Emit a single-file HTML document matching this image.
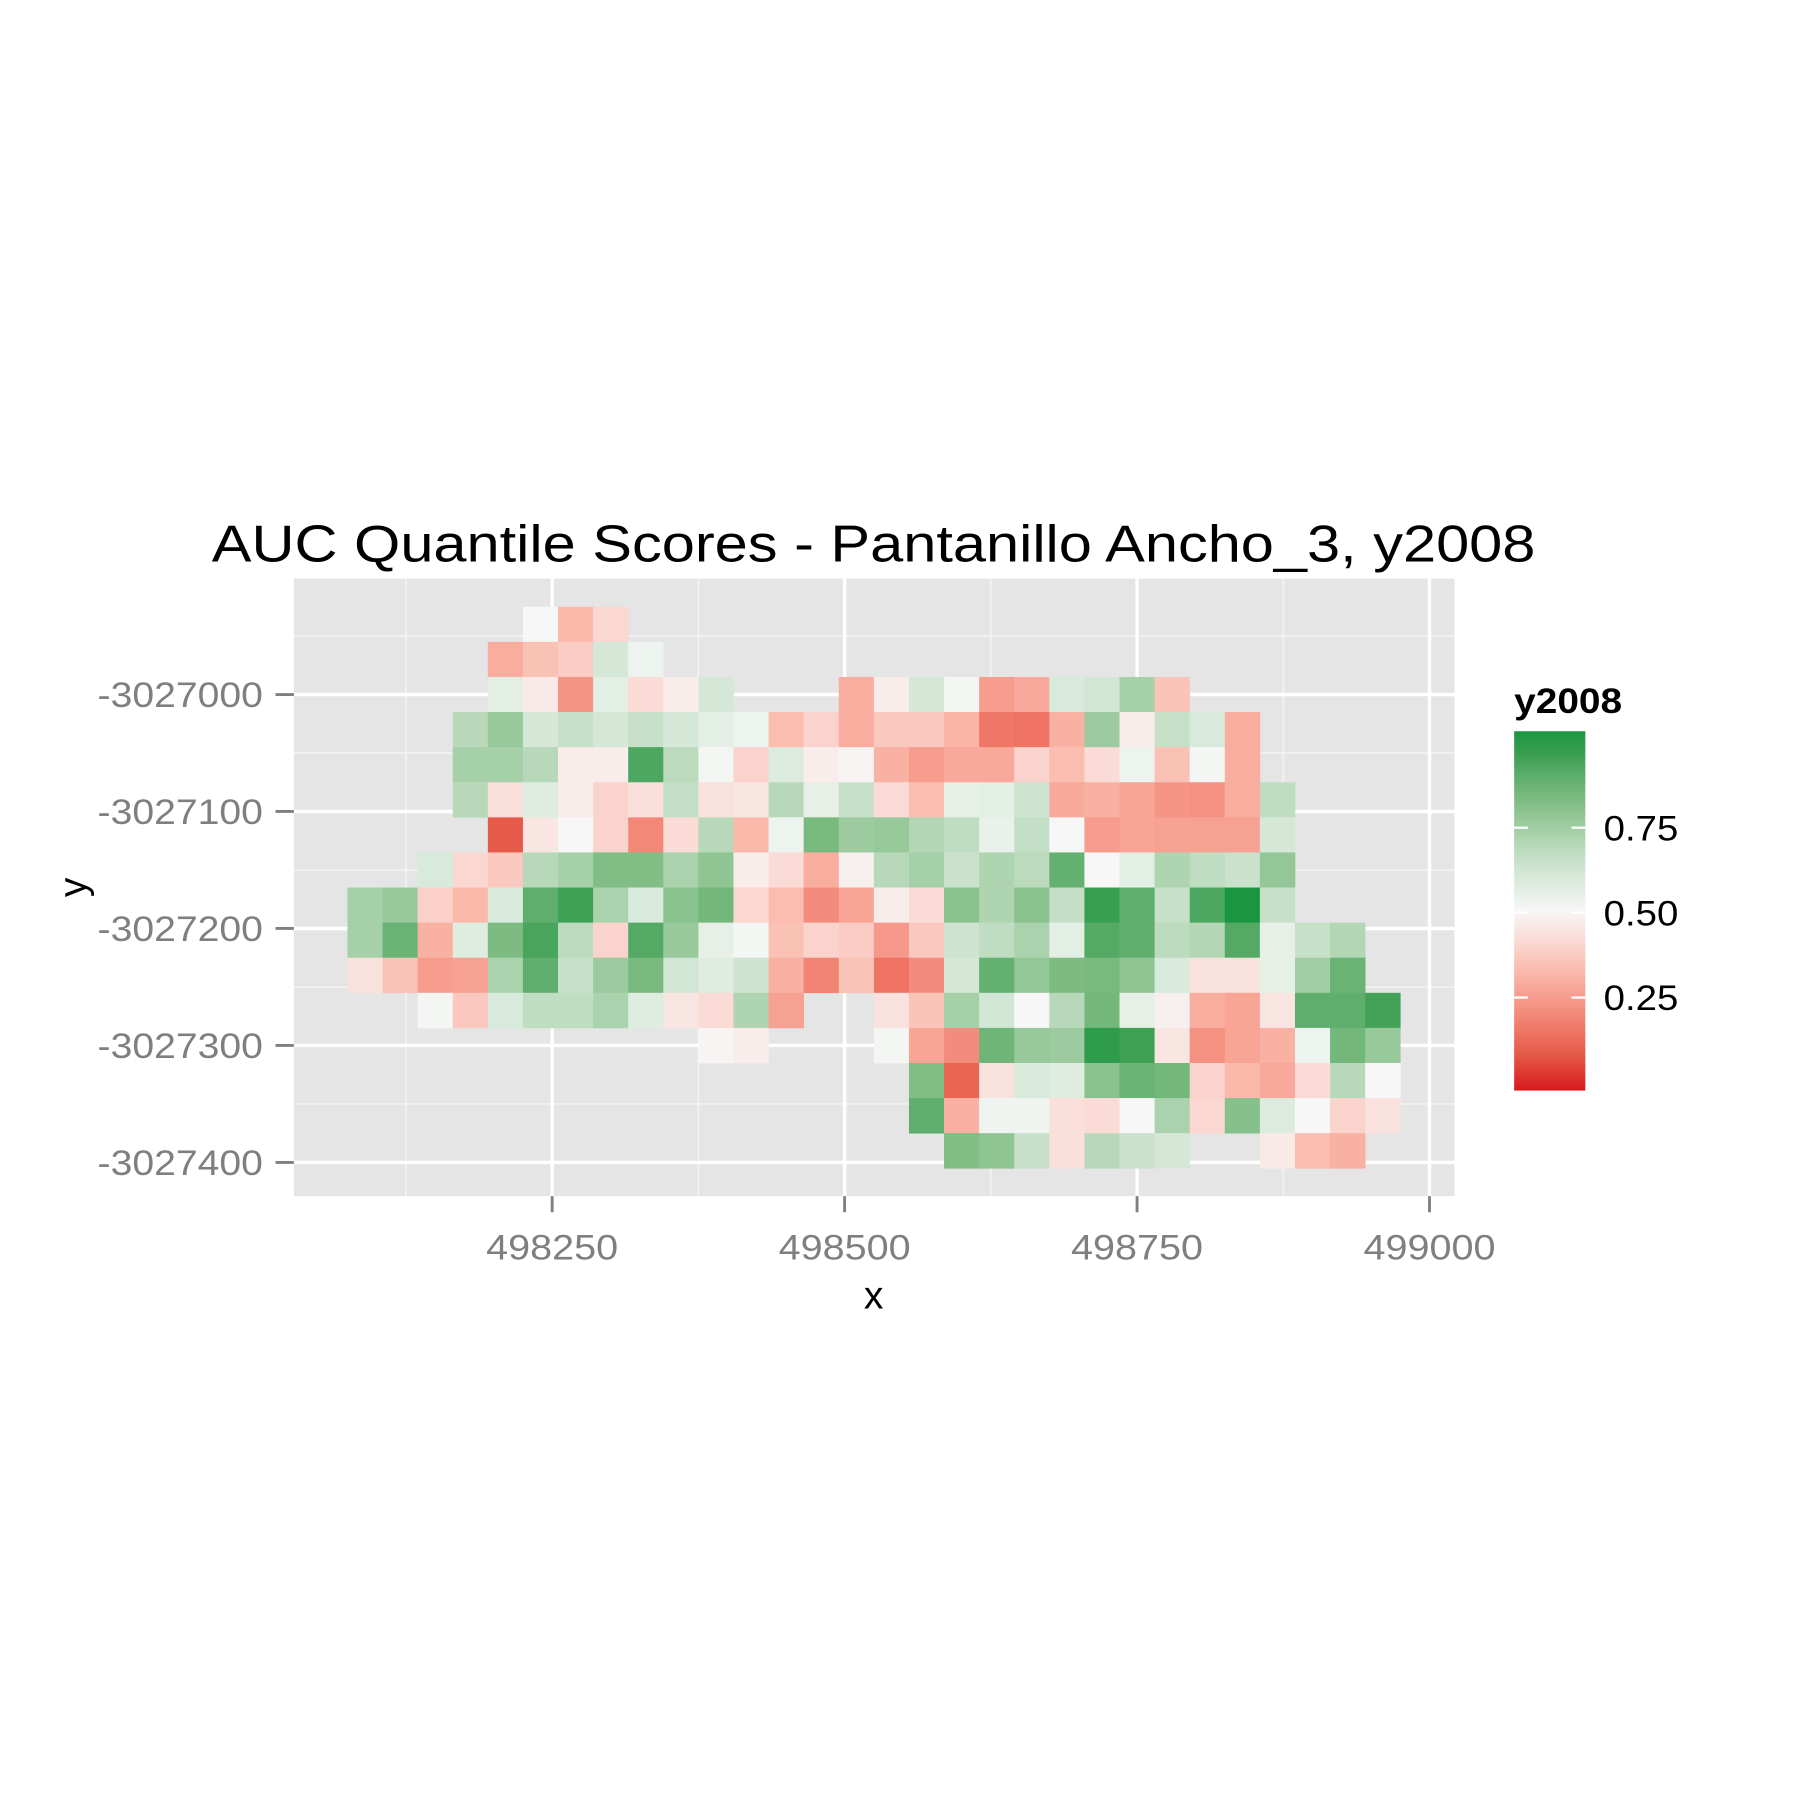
<!DOCTYPE html>
<html><head><meta charset="utf-8"><style>
html,body{margin:0;padding:0;background:#fff;}
svg{display:block;font-family:"Liberation Sans",Arial,sans-serif;}
</style></head><body>
<svg id="chart" width="1800" height="1800" viewBox="0 0 1568 1568" xmlns="http://www.w3.org/2000/svg">
<defs>
<linearGradient id="cbar" x1="0" y1="1" x2="0" y2="0">
<stop offset="0" stop-color="#d7191c"/><stop offset="0.1" stop-color="#e55a48"/><stop offset="0.17" stop-color="#ef7766"/><stop offset="0.25" stop-color="#f6998a"/><stop offset="0.33" stop-color="#fab9ab"/><stop offset="0.42" stop-color="#fadbd6"/><stop offset="0.5" stop-color="#f7f7f7"/><stop offset="0.6" stop-color="#d5e8d8"/><stop offset="0.68" stop-color="#b8d9b9"/><stop offset="0.75" stop-color="#98c99b"/><stop offset="0.82" stop-color="#78b97e"/><stop offset="0.88" stop-color="#5aac6a"/><stop offset="0.93" stop-color="#3da052"/><stop offset="1" stop-color="#1a9641"/>
</linearGradient>
</defs>
<text x="761" y="489" font-size="45" text-anchor="middle" textLength="1153" lengthAdjust="spacingAndGlyphs">AUC Quantile Scores - Pantanillo Ancho_3, y2008</text>
<rect x="256" y="504" width="1011" height="538" fill="#e5e5e5"/>
<g id="grid"></g>
<g id="cells"></g>
<g id="axes"></g>
<text x="761" y="1140" font-size="34" text-anchor="middle">x</text>
<text x="0" y="0" font-size="34" text-anchor="middle" transform="translate(75,773) rotate(-90)">y</text>
<g>
<text x="1319" y="621" font-size="31" font-weight="bold" textLength="94" lengthAdjust="spacingAndGlyphs">y2008</text>
<rect x="1319" y="637" width="62" height="313" fill="url(#cbar)"/>
<g id="legendticks"></g>
</g>
</svg>
<script>
const colStart = [5,4,4,3,3,3,4,2,0,0,0,2,10,16,16,17];
const row0 = [.5,.33,.41];
const row1 = [.3,.35,.38,.6,.53];
const row2 = [.56,.46,.24,.56,.42,.47,.6,null,null,null,.3,.47,.6,.51,.26,.29,.59,.61,.72,.36];
const row3 = [.68,.75,.6,.64,.6,.64,.6,.56,.53,.34,.4,.3,.37,.37,.32,.17,.16,.31,.74,.47,.64,.59,.3];
const row4 = [.72,.72,.68,.47,.47,.9,.67,.51,.4,.58,.47,.49,.31,.26,.29,.29,.4,.34,.42,.53,.35,.51,.3];
const row5 = [.68,.43,.57,.47,.4,.43,.65,.44,.45,.68,.55,.64,.42,.34,.55,.56,.62,.29,.31,.28,.24,.23,.3,.66];
const row6 = [.1,.45,.5,.4,.21,.42,.68,.33,.53,.82,.74,.75,.69,.66,.54,.65,.5,.26,.28,.27,.27,.27,.6];
const row7 = [.59,.41,.37,.68,.72,.8,.8,.71,.77,.47,.42,.3,.48,.68,.72,.63,.7,.67,.86,.5,.56,.7,.66,.63,.76];
const row8 = [.72,.75,.39,.33,.59,.87,.93,.71,.59,.78,.83,.41,.34,.22,.28,.47,.42,.78,.7,.78,.65,.94,.87,.64,.9,1.0,.64];
const row9 = [.72,.85,.31,.57,.81,.91,.67,.4,.89,.75,.55,.51,.35,.4,.38,.25,.37,.62,.66,.71,.56,.89,.87,.67,.69,.89,.55,.64,.69];
const row10 = [.44,.36,.26,.27,.71,.87,.64,.74,.82,.61,.57,.62,.31,.2,.36,.16,.22,.6,.86,.76,.81,.82,.77,.59,.44,.44,.55,.73,.85];
const row11 = [.51,.37,.59,.66,.66,.71,.57,.45,.42,.7,.27,null,null,.44,.36,.72,.61,.5,.68,.83,.55,.48,.3,.28,.45,.87,.87,.92];
const row12 = [.49,.47,null,null,null,.51,.28,.22,.84,.75,.74,.96,.93,.45,.23,.28,.31,.53,.83,.75];
const row13 = [.8,.13,.44,.59,.57,.78,.85,.83,.4,.33,.29,.42,.68,.5];
const row14 = [.87,.31,.52,.52,.43,.42,.5,.71,.41,.79,.58,.5,.4,.44];
const row15 = [.8,.77,.64,.43,.68,.63,.6,null,null,.46,.34,.31];
const xTicks = [498250,498500,498750,499000];
const xTickLabels = ["498250","498500","498750","499000"];
const xMinor = [498125,498375,498625,498875];
const yTicks = [-3027000,-3027100,-3027200,-3027300,-3027400];
const yTickLabels = ["-3027000","-3027100","-3027200","-3027300","-3027400"];
const yMinor = [-3026950,-3027050,-3027150,-3027250,-3027350];
const legendValues = [0.25,0.5,0.75];
const legendLabels = ["0.25","0.50","0.75"];

const rows=[row0,row1,row2,row3,row4,row5,row6,row7,row8,row9,row10,row11,row12,row13,row14,row15];
const X0=498090, Y0=-3026940, STEP=30;
const K=1.019;
function px(x){return 481+(x-498250)*K;}
function py(y){return 605+(-3027000-y)*K;}
const stops=[[0,"#d7191c"],[0.1,"#e55a48"],[0.17,"#ef7766"],[0.25,"#f6998a"],[0.33,"#fab9ab"],[0.42,"#fadbd6"],[0.5,"#f7f7f7"],[0.6,"#d5e8d8"],[0.68,"#b8d9b9"],[0.75,"#98c99b"],[0.82,"#78b97e"],[0.88,"#5aac6a"],[0.93,"#3da052"],[1,"#1a9641"]];
function hex(h){return [1,3,5].map(i=>parseInt(h.substr(i,2),16));}
function color(v){
  v=Math.max(0,Math.min(1,v));
  for(let i=0;i<stops.length-1;i++){
    const a=stops[i],b=stops[i+1];
    if(v<=b[0]){const t=(v-a[0])/(b[0]-a[0]);const ca=hex(a[1]),cb=hex(b[1]);
      return "rgb("+ca.map((c,j)=>Math.round(c+(cb[j]-c)*t)).join(",")+")";}
  }
  return stops[stops.length-1][1];
}
const NS="http://www.w3.org/2000/svg";
function mk(tag,attrs,parent){const e=document.createElementNS(NS,tag);for(const k in attrs)e.setAttribute(k,attrs[k]);parent.appendChild(e);return e;}
const grid=document.getElementById("grid");
xMinor.forEach(v=>{const l=mk("line",{x1:px(v),x2:px(v),y1:504,y2:1042,stroke:"#f2f2f2","stroke-width":1.5},grid);

});
yMinor.forEach(v=>{const l=mk("line",{x1:256,x2:1267,y1:py(v),y2:py(v),stroke:"#f2f2f2","stroke-width":1.5},grid);

});
xTicks.forEach(v=>{const l=mk("line",{x1:px(v),x2:px(v),y1:504,y2:1042,stroke:"#fff","stroke-width":3},grid);

});
yTicks.forEach(v=>{const l=mk("line",{x1:256,x2:1267,y1:py(v),y2:py(v),stroke:"#fff","stroke-width":3},grid);

});
const cells=document.getElementById("cells");
rows.forEach((r,ri)=>{r.forEach((v,ci)=>{
  if(v===null)return;
  const col=colStart[ri]+ci;
  const cx=X0+STEP*col, cy=Y0-STEP*ri;
  const x1=px(cx-STEP/2), x2=px(cx+STEP/2), y1=py(cy+STEP/2), y2=py(cy-STEP/2);
  const c=mk("rect",{x:x1,y:y1,width:x2-x1+0.3,height:y2-y1+0.3,fill:color(v)},cells);
  
  
});});
const axes=document.getElementById("axes");
xTicks.forEach((v,i)=>{
  const t=mk("line",{x1:px(v),x2:px(v),y1:1042,y2:1056,stroke:"#7f7f7f","stroke-width":2.5},axes);
  
  
  const l=mk("text",{x:px(v),y:1097,"font-size":31,fill:"#7f7f7f","text-anchor":"middle",textLength:115,lengthAdjust:"spacingAndGlyphs"},axes);
  l.textContent=xTickLabels[i];
  
  
});
yTicks.forEach((v,i)=>{
  const t=mk("line",{x1:240,x2:256,y1:py(v),y2:py(v),stroke:"#7f7f7f","stroke-width":2.5},axes);
  
  
  const l=mk("text",{x:229,y:py(v)+11,"font-size":31,fill:"#7f7f7f","text-anchor":"end",textLength:144,lengthAdjust:"spacingAndGlyphs"},axes);
  l.textContent=yTickLabels[i];
  
  
});
const lt=document.getElementById("legendticks");
legendValues.forEach((v,i)=>{
  const y=795-(v-0.5)*296;
  const a=mk("line",{x1:1319,x2:1331,y1:y,y2:y,stroke:"#fff","stroke-width":2},lt);
  
  
  const b=mk("line",{x1:1369,x2:1381,y1:y,y2:y,stroke:"#fff","stroke-width":2},lt);
  
  
  const l=mk("text",{x:1397,y:y+11,"font-size":31,fill:"#000",textLength:65,lengthAdjust:"spacingAndGlyphs"},lt);
  l.textContent=legendLabels[i];
  
  
});
</script>
</body></html>
